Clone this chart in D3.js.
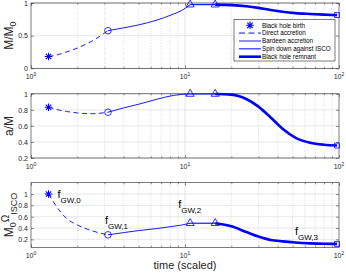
<html>
<head>
<meta charset="UTF-8" />
<script src="https://d3js.org/d3.v7.min.js"></script>
<style>
    body { margin: 0; background: white; }
    text { font-family: "Liberation Sans", Arial, sans-serif; }
    .tick text { fill: #262626; font-size: 7px; }
    .tick line { stroke: #262626; stroke-width: 0.5px; }
</style>
</head>
<body>
<svg id="chart" width="346" height="274"></svg>
<script>
// time (scaled) for each stage
const timeDirect = [1.3, 1.5, 1.7, 2.0, 2.5, 3.16];
const timeBardeen = [3.16, 4.0, 5.0, 6.5, 8.4, 9.6, 10.8];
const timeSpinDown = [10.8, 15.7];
const timeRemnant = [15.7, 20, 25, 30, 36, 43, 52, 65, 80, 97];

// M/M0
const massDirect = [0.18, 0.21, 0.25, 0.31, 0.42, 0.576];
const massBardeen = [0.576, 0.62, 0.665, 0.735, 0.83, 0.89, 0.975];
const massSpinDown = [0.975, 0.975];
const massRemnant = [0.975, 0.968, 0.95, 0.925, 0.892, 0.865, 0.845, 0.832, 0.822, 0.815];

// a/M
const spinDirect = [0.833, 0.80, 0.78, 0.762, 0.752, 0.77];
const spinBardeen = [0.77, 0.825, 0.87, 0.93, 0.98, 0.993, 0.998];
const spinSpinDown = [0.998, 0.998];
const spinRemnant = [0.998, 0.99, 0.935, 0.84, 0.705, 0.565, 0.455, 0.39, 0.365, 0.355];

// M0 * Omega_ISCO
const omegaDirect = [1.0, 0.74, 0.57, 0.454, 0.35, 0.28];
const omegaBardeen = [0.28, 0.32, 0.355, 0.39, 0.43, 0.455, 0.485];
const omegaSpinDown = [0.485, 0.485];
const omegaRemnant = [0.485, 0.43, 0.33, 0.25, 0.19, 0.165, 0.145, 0.13, 0.122, 0.12];

const legendLabels = ["Black hole birth", "Direct accretion", "Bardeen accretion", "Spin down against ISCO", "Black hole remnant"];
const xTickExps = [0, 1, 2];
const gwSubs = ["GW,0", "GW,1", "GW,2", "GW,3"];

const blue = "#0000ff";
const svg = d3.select("#chart");
const x = d3.scaleLog().domain([1, 100]).range([31, 339]);
const majorX = [1, 10, 100];
const minorX = x.ticks().filter(d => majorX.indexOf(d) < 0);

const panels = [
    { top: 3, bottom: 68.3, domain: [0, 1], ticks: [0, 0.5, 1],
      vals: [massDirect, massBardeen, massSpinDown, massRemnant] },
    { top: 93.8, bottom: 158, domain: [0.2, 1], ticks: [0.2, 0.4, 0.6, 0.8, 1],
      vals: [spinDirect, spinBardeen, spinSpinDown, spinRemnant] },
    { top: 182.7, bottom: 247.3, domain: [0.06, 1.2], ticks: [0.2, 0.4, 0.6, 0.8, 1],
      vals: [omegaDirect, omegaBardeen, omegaSpinDown, omegaRemnant] }
];
const times = [timeDirect, timeBardeen, timeSpinDown, timeRemnant];
const styles = [
    { w: 0.9, dash: "5,3.5" },
    { w: 0.9, dash: null },
    { w: 1.1, dash: null },
    { w: 2.6, dash: null }
];

function asterisk(r) {
    const p = d3.path();
    const a = r * 0.7071;
    p.moveTo(-r, 0); p.lineTo(r, 0);
    p.moveTo(0, -r); p.lineTo(0, r);
    p.moveTo(-a, -a); p.lineTo(a, a);
    p.moveTo(-a, a); p.lineTo(a, -a);
    return p.toString();
}

panels.forEach((p, pi) => {
    const y = d3.scaleLinear().domain(p.domain).range([p.bottom, p.top]);
    p.y = y;
    const g = svg.append("g");

    // grid
    g.selectAll("line.hg").data(p.ticks).join("line")
        .attr("x1", 31).attr("x2", 339)
        .attr("y1", d => y(d)).attr("y2", d => y(d))
        .style("stroke", "#e2e2e2").style("stroke-width", 0.8);
    g.selectAll("line.vmin").data(minorX).join("line")
        .attr("x1", d => x(d)).attr("x2", d => x(d))
        .attr("y1", p.top).attr("y2", p.bottom)
        .style("stroke", "#c4c4c4").style("stroke-width", 0.6)
        .style("stroke-dasharray", "1,1.5");
    g.append("line")
        .attr("x1", x(10)).attr("x2", x(10))
        .attr("y1", p.top).attr("y2", p.bottom)
        .style("stroke", "#dedede").style("stroke-width", 0.8);

    // axes with inward ticks
    const yl = g.append("g").attr("transform", "translate(31,0)")
        .call(d3.axisLeft(y).tickValues(p.ticks).tickSize(-3).tickPadding(3).tickFormat(d3.format("~g")));
    const yr = g.append("g").attr("transform", "translate(339,0)")
        .call(d3.axisRight(y).tickValues(p.ticks).tickSize(-3).tickFormat(""));
    const xb = g.append("g").attr("transform", "translate(0," + p.bottom + ")")
        .call(d3.axisBottom(x).tickValues(majorX).tickSize(-3).tickFormat(""));
    const xbm = g.append("g").attr("transform", "translate(0," + p.bottom + ")")
        .call(d3.axisBottom(x).tickValues(minorX).tickSize(-1.6).tickFormat(""));
    const xt = g.append("g").attr("transform", "translate(0," + p.top + ")")
        .call(d3.axisTop(x).tickValues(majorX).tickSize(-3).tickFormat(""));
    const xtm = g.append("g").attr("transform", "translate(0," + p.top + ")")
        .call(d3.axisTop(x).tickValues(minorX).tickSize(-1.6).tickFormat(""));
    [yl, yr, xb, xbm, xt, xtm].forEach(a => a.select(".domain").remove());
    yl.selectAll("text").attr("dy", "0.33em");

    g.append("rect")
        .attr("x", 31).attr("y", p.top)
        .attr("width", 308).attr("height", p.bottom - p.top)
        .style("fill", "none").style("stroke", "#262626").style("stroke-width", 0.6);

    // x tick labels 10^n
    const xl = g.selectAll("text.xl").data(xTickExps).join("text")
        .attr("class", "xl")
        .attr("x", d => x(Math.pow(10, d)))
        .attr("y", p.bottom + 11)
        .attr("text-anchor", "middle")
        .style("fill", "#262626");
    xl.append("tspan").style("font-size", "7px").text("10");
    xl.append("tspan").style("font-size", "5px").attr("dy", -3).text(d => d);

    // series lines
    const line = d3.line().x(d => x(d[0])).y(d => y(d[1])).curve(d3.curveMonotoneX);
    times.forEach((t, si) => {
        g.append("path")
            .datum(d3.zip(t, p.vals[si]))
            .attr("d", line)
            .style("fill", "none")
            .style("stroke", blue)
            .style("stroke-width", styles[si].w)
            .style("stroke-dasharray", styles[si].dash);
    });

    // markers
    const birth = [timeDirect[0], p.vals[0][0]];
    const direct = [timeDirect[timeDirect.length - 1], p.vals[0][p.vals[0].length - 1]];
    const tri = [[timeSpinDown[0], p.vals[2][0]], [timeSpinDown[1], p.vals[2][1]]];
    const rem = [timeRemnant[timeRemnant.length - 1], p.vals[3][p.vals[3].length - 1]];

    g.append("path").attr("d", asterisk(3.8))
        .attr("transform", "translate(" + x(birth[0]) + "," + y(birth[1]) + ")")
        .style("stroke", blue).style("stroke-width", 1.1).style("fill", "none");
    g.append("circle").attr("cx", x(direct[0])).attr("cy", y(direct[1])).attr("r", 3.3)
        .style("stroke", blue).style("stroke-width", 0.8).style("fill", "none");
    g.selectAll("path.tri").data(tri).join("path")
        .attr("class", "tri")
        .attr("d", d3.symbol(d3.symbolTriangle, 28))
        .attr("transform", d => "translate(" + x(d[0]) + "," + y(d[1]) + ")")
        .style("stroke", blue).style("stroke-width", 0.8).style("fill", "none");
    g.append("path").attr("d", d3.symbol(d3.symbolSquare, 24))
        .attr("transform", "translate(" + x(rem[0]) + "," + y(rem[1]) + ")")
        .style("stroke", blue).style("stroke-width", 0.8).style("fill", "none");

    // GW frequency annotations on bottom panel
    if (pi === 2) {
        const spots = [
            [x(birth[0]) + 9, y(birth[1]) + 4],
            [x(direct[0]) - 3, y(direct[1]) - 11],
            [x(tri[0][0]) - 12, y(tri[0][1]) - 15],
            [x(rem[0]) - 42, y(rem[1]) - 9]
        ];
        spots.forEach((s, i) => {
            const t = g.append("text").attr("x", s[0]).attr("y", s[1]).style("fill", "#000");
            t.append("tspan").style("font-size", "11px").text("f");
            t.append("tspan").style("font-size", "8px").attr("dy", 5).text(gwSubs[i]);
        });
    }
});

// y labels
function yLabel(p) {
    return svg.append("text")
        .attr("transform", "translate(12.5," + ((p.top + p.bottom) / 2) + ") rotate(-90)")
        .attr("text-anchor", "middle")
        .style("fill", "#262626");
}
const l0 = yLabel(panels[0]);
l0.append("tspan").style("font-size", "12px").text("M/M");
l0.append("tspan").style("font-size", "9px").attr("dy", 3).text("0");
const l1 = yLabel(panels[1]);
l1.append("tspan").style("font-size", "12px").text("a/M");
const l2 = yLabel(panels[2]);
l2.append("tspan").style("font-size", "12px").text("M");
l2.append("tspan").style("font-size", "9px").attr("dy", 3).text("0");
l2.append("tspan").style("font-size", "10px").attr("dy", -6.4).text("Ω");
l2.append("tspan").style("font-size", "9px").attr("dy", 7.4).text("ISCO");

// x label
svg.append("text")
    .attr("x", 185).attr("y", 268.5)
    .attr("text-anchor", "middle")
    .style("font-size", "11px").style("fill", "#262626")
    .text("time (scaled)");

// legend
const lg = svg.append("g");
lg.append("rect")
    .attr("x", 234).attr("y", 19.5).attr("width", 101).attr("height", 41.5)
    .style("fill", "white").style("stroke", "#262626").style("stroke-width", 0.6);
const ly = i => 25.3 + i * 7.85;
lg.selectAll("text").data(legendLabels).join("text")
    .attr("x", 262).attr("y", (d, i) => ly(i))
    .attr("dy", "0.35em")
    .style("font-size", "6.3px").style("fill", "#000")
    .text(d => d);
lg.append("path").attr("d", asterisk(3.8))
    .attr("transform", "translate(250," + ly(0) + ")")
    .style("stroke", blue).style("stroke-width", 1.1).style("fill", "none");
const legStyles = [
    { w: 1.8, dash: "6,3.5", c: "#7373ff" },
    { w: 1.2, dash: null, c: "#4040ff" },
    { w: 1.0, dash: null, c: blue },
    { w: 2.6, dash: null, c: blue }
];
legStyles.forEach((s, i) => {
    lg.append("line")
        .attr("x1", 239).attr("x2", 261)
        .attr("y1", ly(i + 1)).attr("y2", ly(i + 1))
        .style("stroke", s.c).style("stroke-width", s.w)
        .style("stroke-dasharray", s.dash);
});
</script>
</body>
</html>
